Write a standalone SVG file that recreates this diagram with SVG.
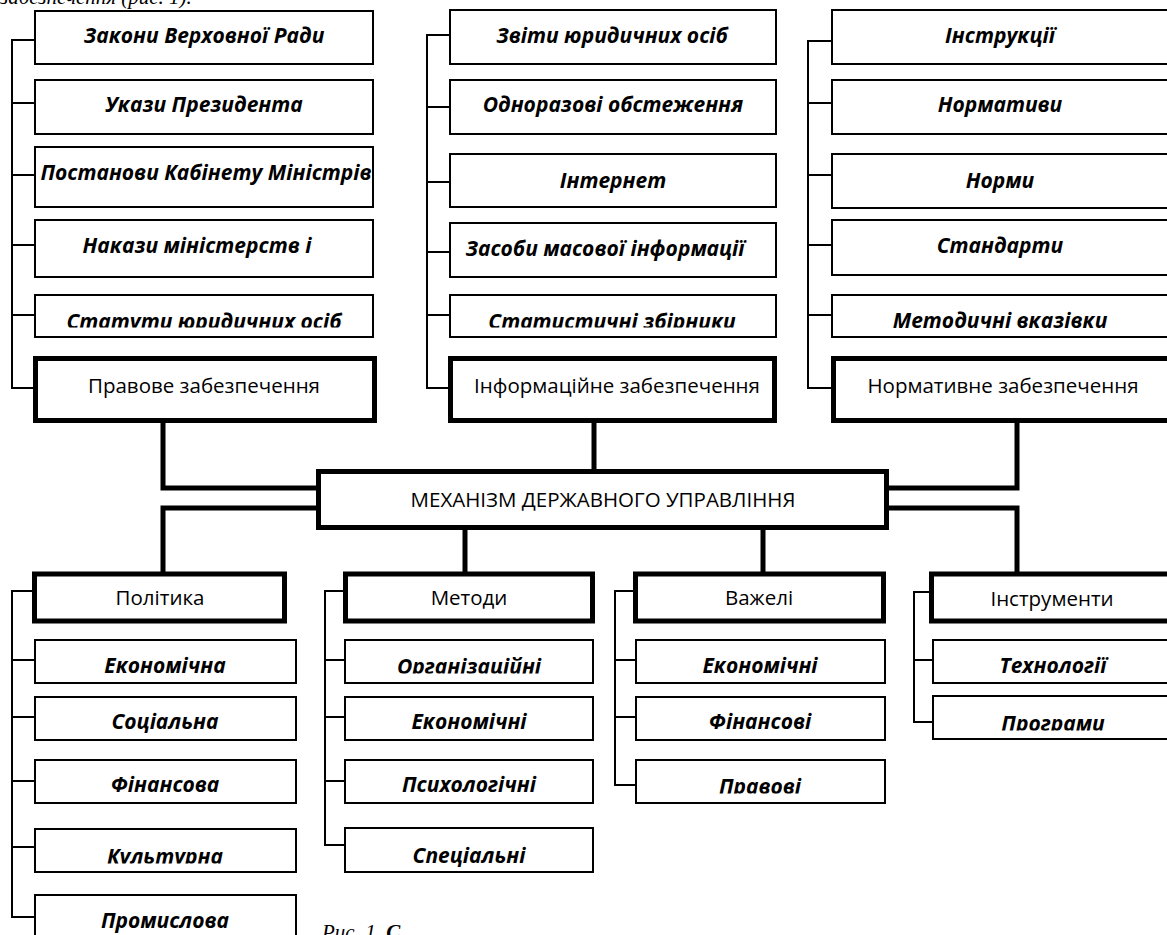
<svg xmlns="http://www.w3.org/2000/svg" width="1167" height="935" viewBox="0 0 1167 935">
<style>
.box{fill:#fff;stroke:#000;stroke-width:2}
.tbox{fill:#fff;stroke:#000;stroke-width:5}
.lbl{font-family:"Open Sans","Noto Sans",sans-serif;font-size:21px;font-weight:bold;font-style:italic;fill:#000;text-anchor:middle}
.hdr{font-family:"Open Sans","Noto Sans",sans-serif;font-size:20.5px;fill:#000;text-anchor:middle}
.br{fill:none;stroke:#000;stroke-width:2}
.cn{fill:none;stroke:#000;stroke-width:5;stroke-linejoin:miter}
.cap{font-family:"Liberation Serif",serif;font-size:21px;font-style:italic;fill:#000}
</style>
<defs>
<clipPath id="c1"><rect x="0" y="0" width="1167" height="327.5"/></clipPath>
<clipPath id="c2"><rect x="0" y="0" width="1167" height="863.5"/></clipPath>
<clipPath id="c3"><rect x="0" y="0" width="1167" height="673.5"/></clipPath>
<clipPath id="c4"><rect x="0" y="0" width="1167" height="793.5"/></clipPath>
<clipPath id="c5"><rect x="0" y="0" width="1167" height="730.5"/></clipPath>
</defs>

<text class="cap" x="0" y="4">забезпечення (рис. 1).</text>

<g id="connectors">
<path class="br" d="M34 40H12V388H35M12 103H35M12 175H35M12 245H35M12 315H35"/>
<path class="br" d="M449 35H427V388H450M427 107H450M427 182H450M427 252H450M427 315H450"/>
<path class="br" d="M831 41H808V388H833M808 103H831M808 175H831M808 245H831M808 315H831"/>
<path class="br" d="M34 591H12V917H35M12 660H35M12 717H35M12 781H35M12 847H35"/>
<path class="br" d="M345 591H325V845H345M325 660H345M325 717H345M325 781H345"/>
<path class="br" d="M635 591H615V785H636M615 660H636M615 717H636"/>
<path class="br" d="M931 592H914V722H933M914 660H933"/>
<path class="cn" d="M163 423V488H318"/>
<path class="cn" d="M594 423V471"/>
<path class="cn" d="M1017 423V488H887"/>
<path class="cn" d="M318 508H163V572"/>
<path class="cn" d="M465 528V572"/>
<path class="cn" d="M763 528V572"/>
<path class="cn" d="M887 508H1017V572"/>
</g>

<g id="n-zakony"><rect class="box" x="35" y="11" width="338" height="53"/><text class="lbl" x="204" y="43">Закони Верховної Ради</text></g>
<g id="n-ukazy"><rect class="box" x="35" y="80" width="338" height="54"/><text class="lbl" x="204" y="112">Укази Президента</text></g>
<g id="n-postanovy"><rect class="box" x="35" y="147" width="338" height="60"/><text class="lbl" x="206" y="180">Постанови Кабінету Міністрів</text></g>
<g id="n-nakazy"><rect class="box" x="35" y="220" width="338" height="57"/><text class="lbl" x="197" y="253">Накази міністерств і</text></g>
<g id="n-statuty"><rect class="box" x="35" y="295" width="338" height="42"/><text class="lbl" x="204" y="329" clip-path="url(#c1)">Статути юридичних осіб</text></g>
<g id="n-pravove"><rect class="tbox" x="35.5" y="358.5" width="339" height="62"/><text class="hdr" x="204" y="393">Правове забезпечення</text></g>

<g id="n-zvity"><rect class="box" x="450" y="10" width="326" height="54"/><text class="lbl" x="612" y="43">Звіти юридичних осіб</text></g>
<g id="n-odnorazovi"><rect class="box" x="450" y="80" width="326" height="54"/><text class="lbl" x="613" y="112">Одноразові обстеження</text></g>
<g id="n-internet"><rect class="box" x="450" y="154" width="326" height="53"/><text class="lbl" x="613" y="188">Інтернет</text></g>
<g id="n-zasoby"><rect class="box" x="450" y="223" width="326" height="54"/><text class="lbl" x="605" y="256">Засоби масової інформації</text></g>
<g id="n-statystychni"><rect class="box" x="450" y="295" width="326" height="42"/><text class="lbl" x="612" y="329" clip-path="url(#c1)">Статистичні збірники</text></g>
<g id="n-informatsiyne"><rect class="tbox" x="450.5" y="358.5" width="324" height="62"/><text class="hdr" x="617" y="393">Інформаційне забезпечення</text></g>

<g id="n-instruktsii"><rect class="box" x="832" y="10" width="340" height="54"/><text class="lbl" x="1000" y="43">Інструкції</text></g>
<g id="n-normatyvy"><rect class="box" x="832" y="80" width="340" height="54"/><text class="lbl" x="1000" y="112">Нормативи</text></g>
<g id="n-normy"><rect class="box" x="832" y="154" width="340" height="54"/><text class="lbl" x="1000" y="188">Норми</text></g>
<g id="n-standarty"><rect class="box" x="832" y="220" width="340" height="55"/><text class="lbl" x="1000" y="253">Стандарти</text></g>
<g id="n-metodychni"><rect class="box" x="832" y="295" width="340" height="42"/><text class="lbl" x="1000" y="328">Методичні вказівки</text></g>
<g id="n-normatyvne"><rect class="tbox" x="833.5" y="358.5" width="400" height="62"/><text class="hdr" x="1003" y="393">Нормативне забезпечення</text></g>

<g id="n-mekhanizm"><rect class="tbox" x="318.5" y="471.5" width="568" height="56"/><text class="hdr" x="603" y="507">МЕХАНІЗМ ДЕРЖАВНОГО УПРАВЛІННЯ</text></g>

<g id="n-polityka"><rect class="tbox" x="34.5" y="574" width="250" height="47"/><text class="hdr" x="160" y="605">Політика</text></g>
<g id="n-p-ekon"><rect class="box" x="35" y="640" width="261" height="43"/><text class="lbl" x="165" y="673">Економічна</text></g>
<g id="n-p-sots"><rect class="box" x="35" y="697" width="261" height="43"/><text class="lbl" x="165" y="729">Соціальна</text></g>
<g id="n-p-fin"><rect class="box" x="35" y="760" width="261" height="43"/><text class="lbl" x="165" y="792">Фінансова</text></g>
<g id="n-p-kult"><rect class="box" x="35" y="829" width="261" height="43"/><text class="lbl" x="165" y="864" clip-path="url(#c2)">Культурна</text></g>
<g id="n-p-prom"><rect class="box" x="35" y="895" width="261" height="60"/><text class="lbl" x="165" y="928">Промислова</text></g>

<g id="n-metody"><rect class="tbox" x="345.5" y="574" width="247" height="47"/><text class="hdr" x="469" y="605">Методи</text></g>
<g id="n-m-org"><rect class="box" x="345" y="640" width="248" height="43"/><text class="lbl" x="469" y="674" clip-path="url(#c3)">Організаційні</text></g>
<g id="n-m-ekon"><rect class="box" x="345" y="697" width="248" height="43"/><text class="lbl" x="469" y="729">Економічні</text></g>
<g id="n-m-psykh"><rect class="box" x="345" y="760" width="248" height="43"/><text class="lbl" x="469" y="792">Психологічні</text></g>
<g id="n-m-spets"><rect class="box" x="345" y="828" width="248" height="44"/><text class="lbl" x="469" y="863">Спеціальні</text></g>

<g id="n-vazheli"><rect class="tbox" x="635.5" y="574" width="248" height="47"/><text class="hdr" x="759" y="605">Важелі</text></g>
<g id="n-v-ekon"><rect class="box" x="636" y="640" width="249" height="43"/><text class="lbl" x="760" y="673">Економічні</text></g>
<g id="n-v-fin"><rect class="box" x="636" y="697" width="249" height="43"/><text class="lbl" x="760" y="729">Фінансові</text></g>
<g id="n-v-prav"><rect class="box" x="636" y="760" width="249" height="43"/><text class="lbl" x="760" y="794" clip-path="url(#c4)">Правові</text></g>

<g id="n-instrumenty"><rect class="tbox" x="931.5" y="574" width="300" height="47"/><text class="hdr" x="1052" y="606">Інструменти</text></g>
<g id="n-i-tekh"><rect class="box" x="933" y="640" width="260" height="43"/><text class="lbl" x="1053" y="673">Технології</text></g>
<g id="n-i-prog"><rect class="box" x="933" y="696" width="260" height="43"/><text class="lbl" x="1053" y="731" clip-path="url(#c5)">Програми</text></g>

<text class="cap" x="322" y="939">Рис. 1. <tspan font-weight="bold">С</tspan></text>
</svg>
